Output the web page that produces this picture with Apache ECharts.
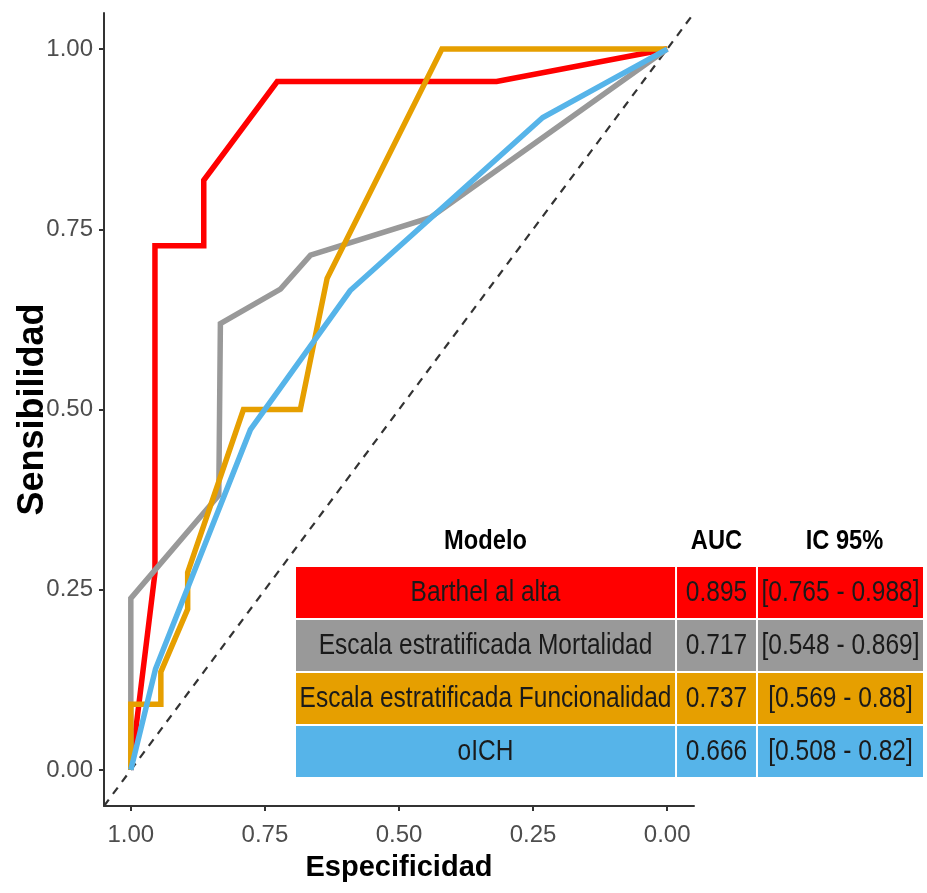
<!DOCTYPE html>
<html>
<head>
<meta charset="utf-8">
<script src="https://cdn.jsdelivr.net/npm/echarts@6/dist/echarts.min.js"></script>
<style>
html,body{margin:0;padding:0;background:#fff;}
#chart{width:927px;height:893px;}
</style>
</head>
<body>
<div id="chart"></div>
<script>
// ---- data ----
const redSpec = [1, 0.955, 0.955, 0.864, 0.864, 0.727, 0.318, 0];
const redSens = [0, 0.273, 0.727, 0.727, 0.818, 0.955, 0.955, 1];
const graySpec = [1, 1, 0.836, 0.833, 0.721, 0.665, 0.442, 0];
const graySens = [0, 0.238, 0.381, 0.619, 0.667, 0.714, 0.766, 1];
const orangeSpec = [1, 1, 0.944, 0.944, 0.894, 0.894, 0.79, 0.684, 0.634, 0.42, 0];
const orangeSens = [0, 0.091, 0.091, 0.136, 0.223, 0.274, 0.5, 0.5, 0.682, 1, 1];
const blueSpec = [1, 0.954, 0.777, 0.591, 0.232, 0];
const blueSens = [0, 0.14, 0.472, 0.665, 0.905, 1];
const refSpec = [1.05, -0.05];
const refSens = [-0.05, 1.05];

const tickValues = [0, 0.25, 0.5, 0.75, 1];

const tableHeaders = ['Modelo', 'AUC', 'IC 95%'];
const models = ['Barthel al alta', 'Escala estratificada Mortalidad', 'Escala estratificada Funcionalidad', 'oICH'];
const aucs = ['0.895', '0.717', '0.737', '0.666'];
const cis = ['[0.765 - 0.988]', '[0.548 - 0.869]', '[0.569 - 0.88]', '[0.508 - 0.82]'];

// ---- styles / layout ----
const colors = ['#FF0000', '#999999', '#E69F00', '#56B4E9'];
const FONT = "'Liberation Sans', Arial, Helvetica, sans-serif";
const colEdges = [0, 0.6077, 0.7368, 1];
const textSquash = 0.845;

function pairs(xs, ys) { return xs.map((x, i) => [x, ys[i]]); }

const curveSeries = [
  [redSpec, redSens], [graySpec, graySens], [orangeSpec, orangeSens], [blueSpec, blueSens]
].map((d, i) => ({
  type: 'line',
  data: pairs(d[0], d[1]),
  showSymbol: false,
  symbol: 'none',
  lineStyle: { color: colors[i], width: 5.5, join: 'miter' },
  z: 3 + i,
  animation: false
}));

const tableData = [];
for (let r = 0; r < 5; r++) for (let c = 0; c < 3; c++) tableData.push([c, r]);
function cellText(c, r) {
  if (r === 0) return tableHeaders[c];
  return [models, aucs, cis][c][r - 1];
}

const chart = echarts.init(document.getElementById('chart'));
chart.setOption({
  animation: false,
  backgroundColor: '#fff',
  grid: [
    { left: 104, right: 233, top: 13, bottom: 87, outerBoundsMode: 'none', containLabel: false },
    { left: 296, top: 514, width: 627, height: 265, outerBoundsMode: 'none', containLabel: false }
  ],
  xAxis: [{
    type: 'value', min: -0.05, max: 1.05, inverse: true,
    splitLine: { show: false },
    axisLine: { show: true, onZero: false, lineStyle: { color: '#333', width: 2 } },
    axisTick: { show: true, length: 5, customValues: tickValues, lineStyle: { color: '#333', width: 2 } },
    axisLabel: { customValues: tickValues, formatter: v => v.toFixed(2), color: '#4d4d4d',
      fontSize: 24, fontFamily: FONT, margin: 17 },
    name: 'Especificidad', nameLocation: 'middle', nameGap: 47, nameMoveOverlap: false,
    nameTextStyle: { fontSize: 29, fontWeight: 'bold', fontFamily: FONT, color: '#000' }
  }, {
    gridIndex: 1, type: 'value', min: 0, max: 1, show: false
  }],
  yAxis: [{
    type: 'value', min: -0.05, max: 1.05,
    splitLine: { show: false },
    axisLine: { show: true, onZero: false, lineStyle: { color: '#333', width: 2 } },
    axisTick: { show: true, length: 5, customValues: tickValues, lineStyle: { color: '#333', width: 2 } },
    axisLabel: { customValues: tickValues, formatter: v => v.toFixed(2), color: '#4d4d4d',
      fontSize: 24, fontFamily: FONT, margin: 11 },
    name: 'Sensibilidad', nameLocation: 'middle', nameGap: 53, nameRotate: 90, nameMoveOverlap: false,
    nameTextStyle: { fontSize: 36, fontWeight: 'bold', fontFamily: FONT, color: '#000' }
  }, {
    gridIndex: 1, type: 'value', min: 0, max: 5, inverse: true, show: false
  }],
  series: [
    {
      type: 'line', data: pairs(refSpec, refSens), showSymbol: false, symbol: 'none',
      lineStyle: { color: '#333', width: 2.2, type: [8, 7] }, z: 2, animation: false
    },
    ...curveSeries,
    {
      type: 'custom', xAxisIndex: 1, yAxisIndex: 1, z: 10, animation: false,
      data: tableData,
      renderItem: function (params, api) {
        const c = api.value(0), r = api.value(1);
        const p0 = api.coord([colEdges[c], r]);
        const p1 = api.coord([colEdges[c + 1], r + 1]);
        const x0 = p0[0], y0 = p0[1];
        const w = p1[0] - p0[0] - (c < 2 ? 2 : 0);
        const h = p1[1] - p0[1] - 2;
        const children = [];
        if (r > 0) {
          children.push({ type: 'rect', shape: { x: x0, y: y0, width: w, height: h },
            style: { fill: colors[r - 1] } });
        }
        children.push({
          type: 'text',
          x: x0 + w / 2 + (r === 0 && c === 2 ? 4 : 0),
          y: y0 + h / 2 + (r === 0 ? 2 : 0),
          scaleX: textSquash,
          style: {
            text: cellText(c, r), x: 0, y: 0,
            align: 'center', verticalAlign: 'middle',
            font: (r === 0 ? 'bold 28px ' : '29px ') + FONT,
            fill: r === 0 ? '#000' : '#1a1a1a'
          }
        });
        return { type: 'group', children: children };
      }
    }
  ]
});
</script>
</body>
</html>
